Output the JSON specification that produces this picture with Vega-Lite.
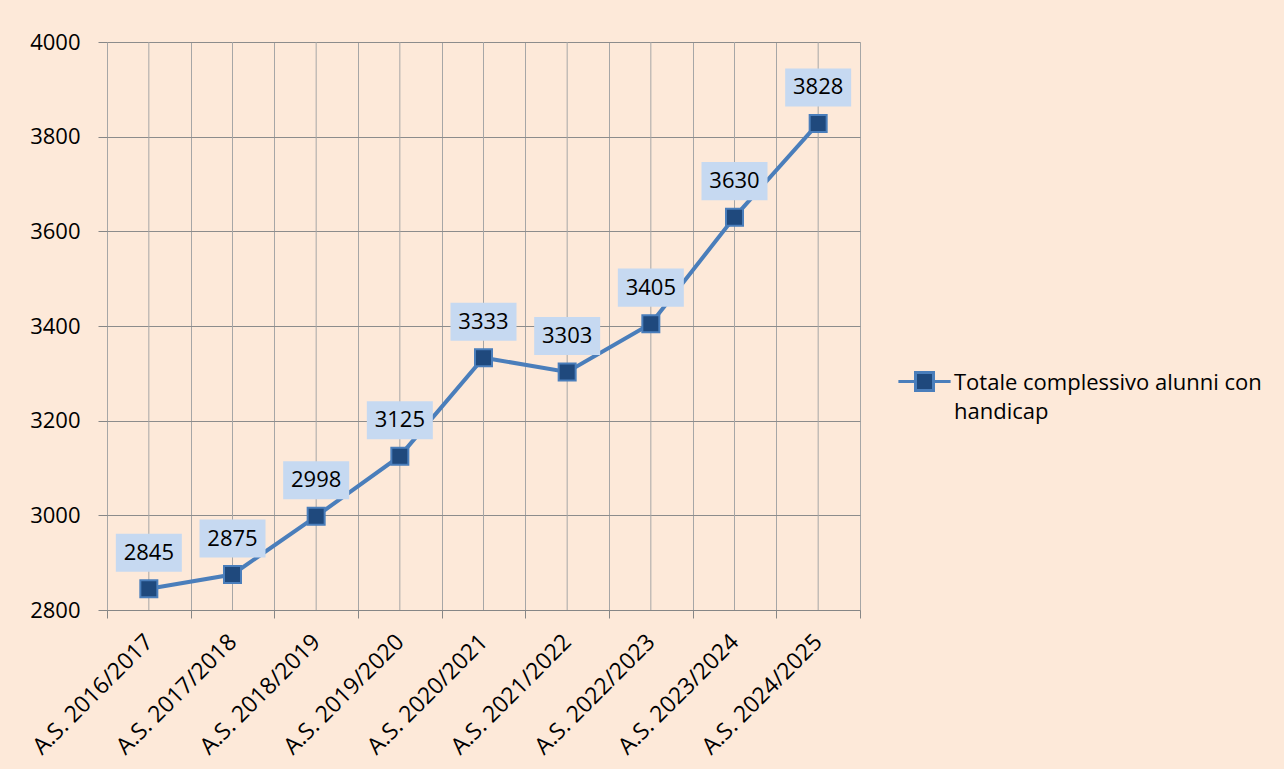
{
  "$schema": "https://vega.github.io/schema/vega-lite/v6.json",
  "autosize": {"type": "none"},
  "width": 753,
  "height": 568,
  "padding": {"left": 107, "top": 42, "right": 424, "bottom": 159},
  "background": "#FDE9D9",
  "config": {
    "view": {"stroke": null},
    "font": "Open Sans"
  },
  "data": {
    "values": [
      {"anno": "A.S. 2016/2017", "valore": 2845, "serie": "Totale complessivo alunni con handicap"},
      {"anno": "A.S. 2017/2018", "valore": 2875, "serie": "Totale complessivo alunni con handicap"},
      {"anno": "A.S. 2018/2019", "valore": 2998, "serie": "Totale complessivo alunni con handicap"},
      {"anno": "A.S. 2019/2020", "valore": 3125, "serie": "Totale complessivo alunni con handicap"},
      {"anno": "A.S. 2020/2021", "valore": 3333, "serie": "Totale complessivo alunni con handicap"},
      {"anno": "A.S. 2021/2022", "valore": 3303, "serie": "Totale complessivo alunni con handicap"},
      {"anno": "A.S. 2022/2023", "valore": 3405, "serie": "Totale complessivo alunni con handicap"},
      {"anno": "A.S. 2023/2024", "valore": 3630, "serie": "Totale complessivo alunni con handicap"},
      {"anno": "A.S. 2024/2025", "valore": 3828, "serie": "Totale complessivo alunni con handicap"}
    ]
  },
  "encoding": {
    "x": {
      "field": "anno", "type": "ordinal", "sort": null,
      "scale": {"type": "band", "paddingInner": 0, "paddingOuter": 0},
      "axis": {
        "title": null, "tickBand": "extent", "grid": true, "gridColor": "#A6A6A6", "gridWidth": 1,
        "ticks": true, "tickColor": "#868686", "tickSize": 8, "domain": true, "domainColor": "#868686",
        "labelAngle": -45, "labelAlign": "right", "labelBaseline": "middle", "labelPadding": 20,
        "labelFontSize": 23, "labelColor": "#000000", "labelFont": "Open Sans", "labelLimit": 0
      }
    },
    "y": {
      "field": "valore", "type": "quantitative",
      "scale": {"domain": [2800, 4000], "nice": false, "zero": false},
      "axis": {
        "title": null, "values": [2800, 3000, 3200, 3400, 3600, 3800, 4000], "format": "d",
        "grid": true, "gridColor": "#8C8C8C", "gridWidth": 1, "domain": false,
        "ticks": true, "tickColor": "#868686", "tickSize": 9, "labelPadding": 18,
        "labelFontSize": 22, "labelColor": "#000000", "labelFont": "Open Sans"
      }
    }
  },
  "layer": [
    {
      "mark": {"type": "rule", "color": "#A6A6A6", "strokeWidth": 1},
      "encoding": {"x": {"field": "anno", "type": "ordinal", "sort": null, "bandPosition": 0.5}, "y": null}
    },
    {
      "mark": {"type": "line", "strokeWidth": 4},
      "encoding": {
        "color": {
          "field": "serie", "type": "nominal",
          "scale": {"range": ["#4A7EBB"]},
          "legend": {
            "orient": "none", "legendX": 798, "legendY": 320, "title": null, "padding": 0,
            "symbolSize": 1296, "labelFontSize": 22, "labelFont": "Open Sans", "labelColor": "#000000",
            "labelOffset": 10, "labelLimit": 0,
            "labelExpr": "[slice(datum.label, 0, 29), slice(datum.label, 30)]",
            "symbolType": "M-1.45,0H-0.5M0.5,0H1.45M-0.5,-0.5H0.5V0.5H-0.5Z",
            "encode": {
              "symbols": {"update": {
                "fill": {"value": "#1F497D"}, "stroke": {"value": "#4A7EBB"},
                "strokeWidth": {"value": 3}, "fillOpacity": {"value": 1}, "opacity": {"value": 1},
                "shape": {"value": "M-1.45,0H-0.5M0.5,0H1.45M-0.5,-0.5H0.5V0.5H-0.5Z"},
                "size": {"value": 1296}
              }},
              "labels": {"update": {"lineHeight": {"value": 29}, "baseline": {"value": "alphabetic"}, "dy": {"value": 8}}}
            }
          }
        }
      }
    },
    {
      "mark": {"type": "point", "shape": "square", "size": 289, "filled": true, "fill": "#1F497D", "stroke": "#4A7EBB", "strokeWidth": 2, "opacity": 1}
    },
    {
      "mark": {"type": "point", "shape": "M-1,-1.667H1V-0.515H-1Z", "size": 4356, "filled": true, "fill": "#C6D9F1", "strokeWidth": 0, "opacity": 1}
    },
    {
      "mark": {"type": "text", "dy": -36, "baseline": "middle", "align": "center", "fontSize": 22, "font": "Open Sans", "color": "#000000"},
      "encoding": {"text": {"field": "valore", "type": "quantitative", "format": "d"}}
    }
  ]
}
